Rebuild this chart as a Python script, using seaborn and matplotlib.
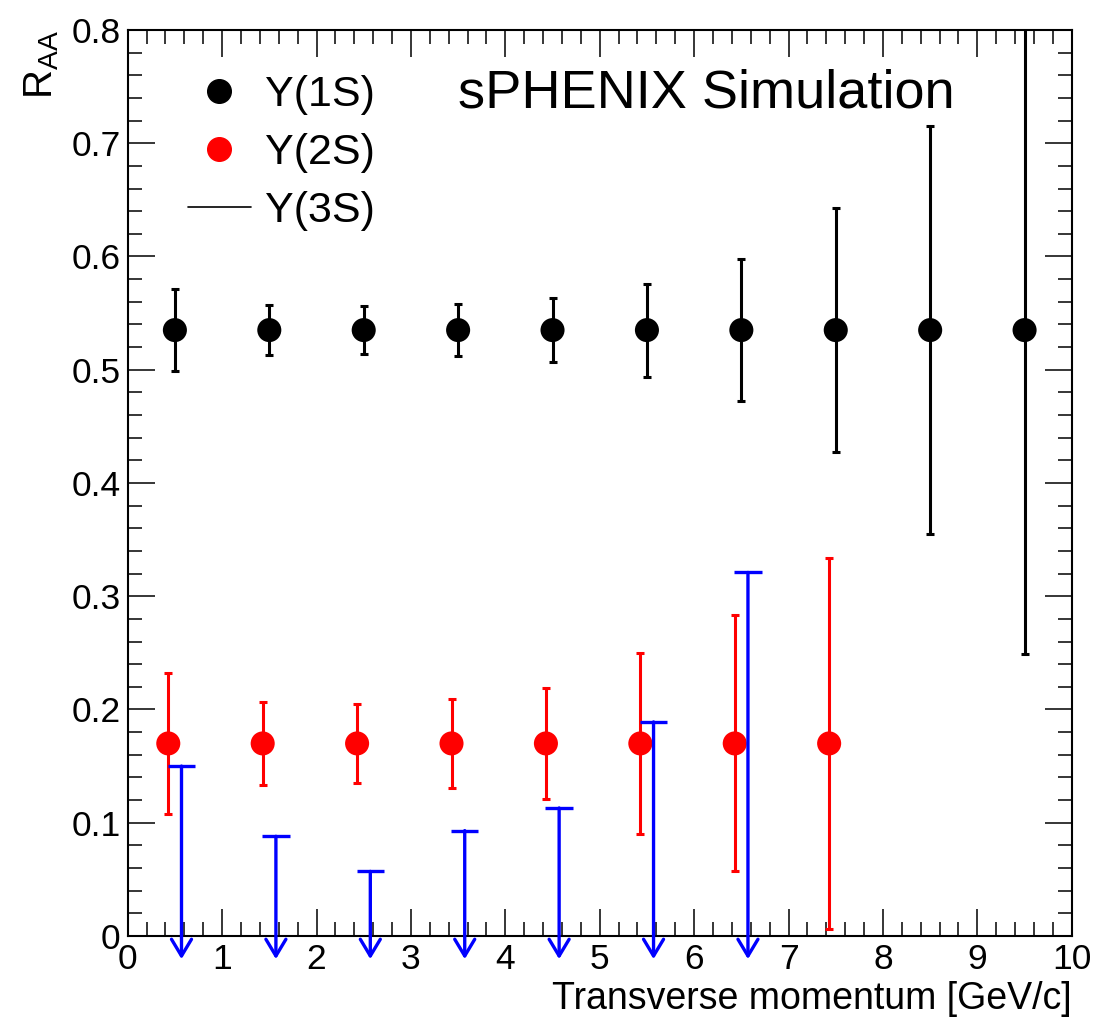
import numpy as np
import pandas as pd
import matplotlib
matplotlib.use("Agg")
import matplotlib.pyplot as plt
import seaborn as sns
from matplotlib.lines import Line2D
from matplotlib.ticker import MultipleLocator

# ---------------- data ----------------
pt_bins = [0.5, 1.5, 2.5, 3.5, 4.5, 5.5, 6.5, 7.5, 8.5, 9.5]
raa_1s = [0.535] * 10
err_1s = [0.036, 0.022, 0.021, 0.023, 0.028, 0.041, 0.063, 0.108, 0.180, 0.286]

pt_2s = [0.5, 1.5, 2.5, 3.5, 4.5, 5.5, 6.5, 7.5]
raa_2s = [0.17] * 8
err_2s = [0.062, 0.037, 0.035, 0.039, 0.049, 0.080, 0.113, 0.164]

pt_3s = [0.5, 1.5, 2.5, 3.5, 4.5, 5.5, 6.5]
ul_3s = [0.150, 0.088, 0.057, 0.093, 0.113, 0.189, 0.321]

x_ticks = [0, 1, 2, 3, 4, 5, 6, 7, 8, 9, 10]
y_ticks = [0, 0.1, 0.2, 0.3, 0.4, 0.5, 0.6, 0.7, 0.8]
y_ticklabels = ["0", "0.1", "0.2", "0.3", "0.4", "0.5", "0.6", "0.7", "0.8"]

labels = ["Y(1S)", "Y(2S)", "Y(3S)"]
title_text = "sPHENIX Simulation"
xlabel = "Transverse momentum [GeV/c]"
ylabel = r"$\mathregular{R_{AA}}$"

# ---------------- style ----------------
sns.set_theme(style="ticks")
plt.rcParams["font.family"] = ["Liberation Sans", "DejaVu Sans"]
plt.rcParams["mathtext.fontset"] = "custom"
plt.rcParams["mathtext.rm"] = "Liberation Sans"
plt.rcParams["text.color"] = "black"
plt.rcParams["axes.labelcolor"] = "black"

RED = "#ff0000"
BLUE = "#0000ff"
BLACK = "#000000"
off_2s = -0.07
off_3s = 0.07

fig = plt.figure(figsize=(10.96, 10.17), dpi=100)
ax = fig.add_axes([0.1165, 0.0797, 0.8614, 0.8908])

df1 = pd.DataFrame({"pt": pt_bins, "raa": raa_1s, "err": err_1s})
df2 = pd.DataFrame({"pt": np.array(pt_2s) + off_2s, "raa": raa_2s, "err": err_2s})
df3 = pd.DataFrame({"pt": np.array(pt_3s) + off_3s, "ul": ul_3s})

# error bars
ax.errorbar(df1["pt"], df1["raa"], yerr=df1["err"], fmt="none", ecolor=BLACK,
            elinewidth=2.2, capsize=3, capthick=2.2, zorder=2)
ax.errorbar(df2["pt"], df2["raa"], yerr=df2["err"], fmt="none", ecolor=RED,
            elinewidth=2.2, capsize=3, capthick=2.2, zorder=2)

# points
sns.scatterplot(data=df1, x="pt", y="raa", s=300, color=BLACK, edgecolor="none",
                ax=ax, zorder=3, legend=False)
sns.scatterplot(data=df2, x="pt", y="raa", s=300, color=RED, edgecolor="none",
                ax=ax, zorder=3, legend=False)

# upper limits Y(3S)
cap_half = 0.145
ax.hlines(df3["ul"], df3["pt"] - cap_half, df3["pt"] + cap_half,
          colors=BLUE, linewidth=2.4, zorder=4)
for xx, yy in zip(df3["pt"], df3["ul"]):
    ax.annotate("", xy=(xx, -0.0205), xytext=(xx, yy),
                arrowprops=dict(arrowstyle="->,head_length=0.6,head_width=0.36",
                                color=BLUE, lw=2.4, mutation_scale=20,
                                shrinkA=0, shrinkB=0),
                annotation_clip=False, zorder=4)

# axes
ax.set_xlim(0, 10)
ax.set_ylim(0, 0.8)
ax.set_xticks(x_ticks)
ax.set_xticklabels([str(v) for v in x_ticks])
ax.set_yticks(y_ticks)
ax.set_yticklabels(y_ticklabels)
ax.xaxis.set_minor_locator(MultipleLocator(0.2))
ax.yaxis.set_minor_locator(MultipleLocator(0.02))
ax.tick_params(which="both", direction="in", top=True, right=True,
               color=BLACK, labelcolor=BLACK)
ax.tick_params(which="major", length=19.5, width=1.1, labelsize=25.5, pad=5)
ax.tick_params(which="minor", length=10, width=1.1)
for s in ax.spines.values():
    s.set_linewidth(1.5)
    s.set_color(BLACK)
ax.grid(False)

ax.set_xlabel(xlabel, fontsize=27, loc="right", color=BLACK)
ax.xaxis.set_label_coords(1.0, -0.050)
ax.set_ylabel(ylabel, fontsize=29, loc="top", color=BLACK)
ax.yaxis.set_label_coords(-0.071, 1.0)

ax.text(0.35, 0.930, title_text, transform=ax.transAxes, fontsize=39,
        ha="left", va="center", color=BLACK)

handles = [
    Line2D([], [], marker="o", linestyle="none", color=BLACK, markersize=17),
    Line2D([], [], marker="o", linestyle="none", color=RED, markersize=17),
    Line2D([], [], color=BLACK, linewidth=1.2),
]
leg = ax.legend(handles, labels, loc="upper left", bbox_to_anchor=(0.064, 0.950),
                frameon=False, fontsize=31, handlelength=1.45, handletextpad=0.33,
                labelspacing=0.42, borderpad=0, borderaxespad=0, labelcolor=BLACK)

fig.savefig("out.png", dpi=100)
